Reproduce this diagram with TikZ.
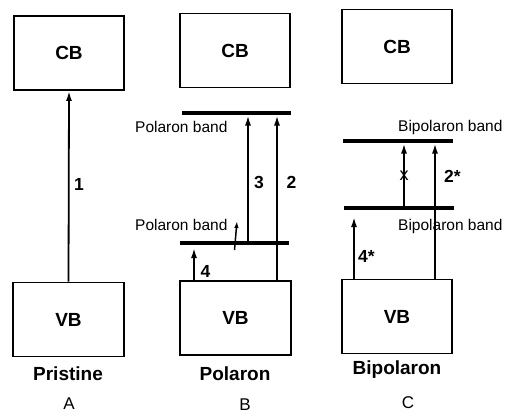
\documentclass[tikz,border=0pt]{standalone}
\usepackage{fontspec}
\setmainfont{Liberation Sans}
\usetikzlibrary{arrows.meta}
\begin{document}
\begin{tikzpicture}[x=1pt,y=-1pt,
  bandbox/.style={draw, line width=1.9pt, minimum width=110.5pt, minimum height=74pt, inner sep=0pt,
    font=\fontsize{19}{19}\selectfont\bfseries, text height=13.6pt, text depth=0pt},
  bandline/.style={line width=4.6pt},
  arr/.style={line width=1.8pt, -{Latex[length=10pt,width=6pt]}},
  smallarr/.style={line width=1.5pt, -{Latex[length=7pt,width=4.5pt]}},
  num/.style={anchor=base, inner sep=0pt, font=\fontsize{17.5}{17.5}\selectfont\bfseries},
  numw/.style={anchor=base west, inner sep=0pt, font=\fontsize{17.5}{17.5}\selectfont\bfseries},
  lvl/.style={anchor=base west, inner sep=0pt, font=\fontsize{15.5}{15.5}\selectfont},
  ttl/.style={anchor=base, inner sep=0pt, font=\fontsize{19}{19}\selectfont\bfseries},
  pnl/.style={anchor=base, inner sep=0pt, font=\fontsize{17}{17}\selectfont}]
\useasboundingbox (0,0) rectangle (505,413);

% boxes
\node[bandbox] (cbA) at (69,53) {CB};
\node[bandbox] (vbA) at (68.5,319.5) {VB};
\node[bandbox] (cbB) at (235,50.5) {CB};
\node[bandbox] (vbB) at (235.5,318) {VB};
\node[bandbox] (cbC) at (397,46.5) {CB};
\node[bandbox] (vbC) at (397,316.5) {VB};

% band lines
\coordinate (pTopL) at (182,113); \coordinate (pTopR) at (291,113);
\coordinate (pLowL) at (180,243); \coordinate (pLowR) at (289,243);
\coordinate (bTopL) at (343,141); \coordinate (bTopR) at (453,141);
\coordinate (bLowL) at (344,208); \coordinate (bLowR) at (454,208);
\draw[bandline] (pTopL) -- (pTopR);
\draw[bandline] (pLowL) -- (pLowR);
\draw[bandline] (bTopL) -- (bTopR);
\draw[bandline] (bLowL) -- (bLowR);

% panel A
\draw[arr] (vbA.north) -- (cbA.south);
\node[num] (l1) at (79,190) {1};

% panel B
\coordinate (a3s) at (248,243); \coordinate (a3e) at (248,115.5);
\coordinate (a2e) at (277,115.5);
\coordinate (a4e) at (194,248);
\coordinate (t1) at (234.5,250); \coordinate (t2) at (237,221);
\draw[arr] (a3s) -- (a3e);
\draw[arr] (vbB.north -| a2e) -- (a2e);
\draw[arr] (vbB.north -| a4e) -- (a4e);
\draw[smallarr] (t1) -- (t2);
\node[num] (l3) at (259,188) {3};
\node[num] (l2) at (291.5,188) {2};
\node[num] (l4) at (205.5,277) {4};
\node[lvl] (pbU) at (135,132) {Polaron band};
\node[lvl] (pbL) at (135,230) {Polaron band};

% panel C
\coordinate (xs) at (404,206); \coordinate (xe) at (404,143.5);
\coordinate (s2e) at (435,143.5);
\coordinate (s4e) at (354,217);
\draw[arr] (xs) -- (xe);
\draw[arr] (vbC.north -| s2e) -- (s2e);
\draw[arr] (vbC.north -| s4e) -- (s4e);
\node[anchor=base, inner sep=0pt, font=\fontsize{18}{18}\selectfont] (lx) at (404,180) {x};
\node[numw] (l2s) at (444,182) {2*};
\node[numw] (l4s) at (358,262) {4*};
\node[lvl] (bbU) at (398,131) {Bipolaron band};
\node[lvl] (bbL) at (398,230) {Bipolaron band};

% titles
\node[ttl] (tA) at (68,380) {Pristine};
\node[ttl] (tB) at (235,380) {Polaron};
\node[ttl] (tC) at (397,374) {Bipolaron};
\node[pnl] (pA) at (69,409.5) {A};
\node[pnl] (pB) at (245,410.5) {B};
\node[pnl] (pC) at (408,408) {C};
\end{tikzpicture}
\end{document}
